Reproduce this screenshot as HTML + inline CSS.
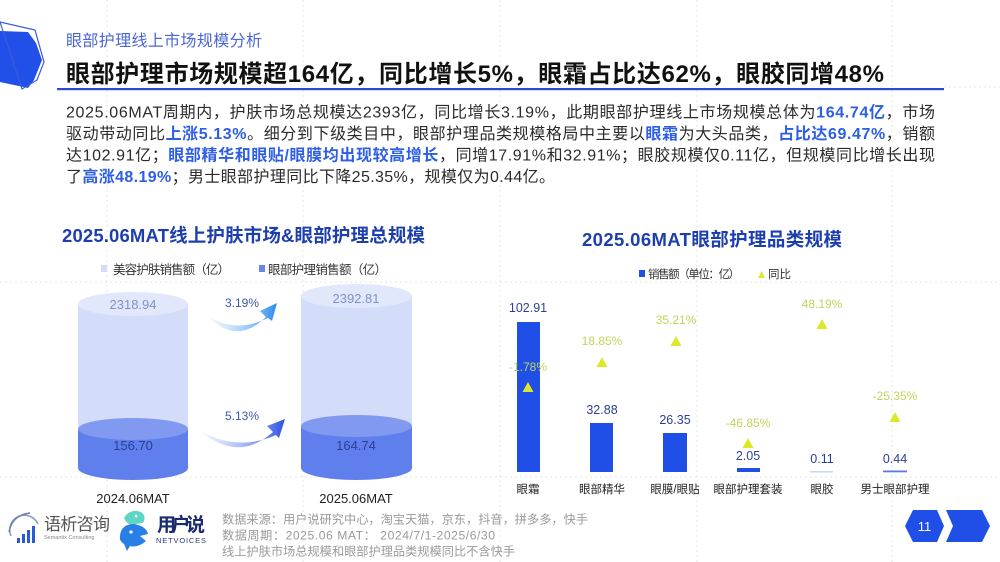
<!DOCTYPE html>
<html><head><meta charset="utf-8">
<style>
html,body{margin:0;padding:0;background:#fff;}
svg{display:block;}
text{font-family:"Liberation Sans","Noto Sans CJK SC",sans-serif;}
.body{font-size:16px;fill:#2b2b2b;}
.hl{fill:#2d5ee6;font-weight:bold;}
.grid{stroke:#e4e4e4;stroke-width:1;stroke-dasharray:2 3;fill:none;}
</style></head>
<body>
<svg width="1000" height="562" viewBox="0 0 1000 562" xmlns="http://www.w3.org/2000/svg">
<defs>
<linearGradient id="ag1" x1="0" y1="0" x2="1" y2="0">
<stop offset="0" stop-color="#d6e6fb" stop-opacity="0.3"/>
<stop offset="1" stop-color="#2b8af0"/>
</linearGradient>
<linearGradient id="ag2" x1="0" y1="0" x2="1" y2="0">
<stop offset="0" stop-color="#d3dcf9" stop-opacity="0.3"/>
<stop offset="1" stop-color="#2a4fe6"/>
</linearGradient>
</defs>

<!-- faint grid lines -->
<g class="grid">
<line x1="107" y1="0" x2="107" y2="562"/>
<line x1="303" y1="0" x2="303" y2="562"/>
<line x1="500" y1="0" x2="500" y2="562"/>
<line x1="697" y1="0" x2="697" y2="562"/>
<line x1="892" y1="0" x2="892" y2="562"/>
<line x1="944" y1="87" x2="1000" y2="87"/>
<line x1="0" y1="282" x2="1000" y2="282"/>
<line x1="0" y1="477" x2="1000" y2="477"/>
</g>

<!-- top-left decoration -->
<polygon points="0,31 28,32 36,43 42,60 34,80 28,88 0,82" fill="#2150e8"/>
<polygon points="0,22 35,30 44,62 37,80 22,89" fill="none" stroke="#3b5bd8" stroke-width="1.2"/>

<!-- header -->
<text x="66" y="46" font-size="16" fill="#4a66d6" textLength="196" lengthAdjust="spacing">眼部护理线上市场规模分析</text>
<text x="66" y="82" font-size="24" font-weight="bold" fill="#111" textLength="818" lengthAdjust="spacing">眼部护理市场规模超164亿，同比增长5%，眼霜占比达62%，眼胶同增48%</text>
<rect x="57" y="88" width="887" height="2.2" fill="#2a4ad0"/>

<!-- body text -->
<text class="body" x="66" y="117.5" textLength="869" lengthAdjust="spacing">2025.06MAT周期内，护肤市场总规模达2393亿，同比增长3.19%，此期眼部护理线上市场规模总体为<tspan class="hl">164.74亿</tspan>，市场</text>
<text class="body" x="66" y="139" textLength="869" lengthAdjust="spacing">驱动带动同比<tspan class="hl">上涨5.13%</tspan>。细分到下级类目中，眼部护理品类规模格局中主要以<tspan class="hl">眼霜</tspan>为大头品类，<tspan class="hl">占比达69.47%</tspan>，销额</text>
<text class="body" x="66" y="160.5" textLength="869" lengthAdjust="spacing">达102.91亿；<tspan class="hl">眼部精华和眼贴/眼膜均出现较高增长</tspan>，同增17.91%和32.91%；眼胶规模仅0.11亿，但规模同比增长出现</text>
<text class="body" x="66" y="182" textLength="489" lengthAdjust="spacing">了<tspan class="hl">高涨48.19%</tspan>；男士眼部护理同比下降25.35%，规模仅为0.44亿。</text>

<!-- LEFT CHART -->
<text x="62" y="242" font-size="18.5" font-weight="bold" fill="#1d3fae" textLength="363" lengthAdjust="spacing">2025.06MAT线上护肤市场&amp;眼部护理总规模</text>
<rect x="101" y="265" width="6" height="7" fill="#d3ddf9"/>
<text x="113" y="274" font-size="12.5" fill="#333" textLength="117" lengthAdjust="spacing">美容护肤销售额（亿）</text>
<rect x="259" y="265" width="6" height="7" fill="#6b86ec"/>
<text x="268" y="274" font-size="12.5" fill="#333" textLength="119" lengthAdjust="spacing">眼部护理销售额（亿）</text>

<!-- left cylinder -->
<rect x="78" y="304" width="110" height="125" fill="#d3ddf9"/>
<ellipse cx="133" cy="304" rx="55" ry="12" fill="#e1e8fc"/>
<rect x="78" y="429" width="110" height="39" fill="#5f7fed"/>
<ellipse cx="133" cy="468" rx="55" ry="12" fill="#5f7fed"/>
<ellipse cx="133" cy="429" rx="55" ry="11" fill="#8199f1"/>
<text x="133" y="309" font-size="13" fill="#8090c8" text-anchor="middle">2318.94</text>
<text x="133" y="450" font-size="13" fill="#2c3f95" text-anchor="middle">156.70</text>

<!-- right cylinder -->
<rect x="301" y="296" width="111" height="130" fill="#d3ddf9"/>
<ellipse cx="356.5" cy="296" rx="55.5" ry="12" fill="#e1e8fc"/>
<rect x="301" y="426" width="111" height="42" fill="#5f7fed"/>
<ellipse cx="356.5" cy="468" rx="55.5" ry="12" fill="#5f7fed"/>
<ellipse cx="356.5" cy="426" rx="55.5" ry="11" fill="#8199f1"/>
<text x="356" y="303" font-size="13" fill="#8090c8" text-anchor="middle">2392.81</text>
<text x="356" y="450" font-size="13" fill="#2c3f95" text-anchor="middle">164.74</text>

<text x="133" y="503" font-size="13" fill="#222" text-anchor="middle">2024.06MAT</text>
<text x="356" y="503" font-size="13" fill="#222" text-anchor="middle">2025.06MAT</text>

<!-- arrows -->
<path d="M208,316 Q236,346 266,317 L260,311 L277,303 L272,321 L268,318 Q236,334 208,316 Z" fill="url(#ag1)"/>
<text x="242" y="307" font-size="12" fill="#3a5aa8" text-anchor="middle">3.19%</text>
<path d="M200,431 Q238,463 273,432 L267,426 L285,419 L279,438 L276,435 Q238,452 200,431 Z" fill="url(#ag2)"/>
<text x="242" y="420" font-size="12" fill="#3a5aa8" text-anchor="middle">5.13%</text>

<!-- RIGHT CHART -->
<text x="582" y="246" font-size="18.5" font-weight="bold" fill="#1d3fae" textLength="260" lengthAdjust="spacing">2025.06MAT眼部护理品类规模</text>
<rect x="639" y="270" width="6" height="7" fill="#1f4fe6"/>
<text x="648" y="278" font-size="11.5" fill="#333" textLength="92" lengthAdjust="spacing">销售额（单位：亿）</text>
<polygon points="758,278 765,278 761.5,271" fill="#dde82a"/>
<text x="768" y="278" font-size="11.5" fill="#333">同比</text>

<!-- bars -->
<rect x="517" y="322" width="23" height="150" fill="#1f4fe6"/>
<rect x="590" y="423" width="23" height="49" fill="#1f4fe6"/>
<rect x="663" y="433" width="24" height="39" fill="#1f4fe6"/>
<rect x="737" y="468" width="23" height="4" fill="#1f4fe6"/>
<rect x="810" y="471" width="23" height="1.5" fill="#c9d4f6"/>
<rect x="883" y="470.5" width="24" height="1.8" fill="#5a78e8"/>

<g font-size="12.5" fill="#2c3f95" text-anchor="middle">
<text x="528" y="312">102.91</text>
<text x="602" y="414">32.88</text>
<text x="675" y="424">26.35</text>
<text x="748" y="460">2.05</text>
<text x="822" y="463">0.11</text>
<text x="895" y="463">0.44</text>
</g>

<!-- triangles -->
<g fill="#dde82a">
<polygon points="522.5,392 533.5,392 528,382"/>
<polygon points="596.5,367 607.5,367 602,357"/>
<polygon points="670.5,346 681.5,346 676,336"/>
<polygon points="742.5,448 753.5,448 748,438"/>
<polygon points="816.5,329 827.5,329 822,319"/>
<polygon points="889.5,422 900.5,422 895,412"/>
</g>
<g font-size="12" fill="#c5d35a" text-anchor="middle">
<text x="528" y="371">-1.78%</text>
<text x="602" y="345">18.85%</text>
<text x="676" y="324">35.21%</text>
<text x="748" y="427">-46.85%</text>
<text x="822" y="308">48.19%</text>
<text x="895" y="400">-25.35%</text>
</g>

<g font-size="11.5" fill="#222" text-anchor="middle">
<text x="528" y="493">眼霜</text>
<text x="602" y="493">眼部精华</text>
<text x="675" y="493">眼膜/眼贴</text>
<text x="748" y="493">眼部护理套装</text>
<text x="822" y="493">眼胶</text>
<text x="895" y="493">男士眼部护理</text>
</g>

<!-- footer logos -->
<path d="M11,536 A14,14 0 0 1 38,524" fill="none" stroke="#8aa0c0" stroke-width="1.6"/>
<path d="M9,532 Q12,515 30,513" fill="none" stroke="#6a7fa8" stroke-width="1.4"/>
<rect x="17" y="538" width="3" height="5" fill="#2a5ad8"/>
<rect x="22" y="534" width="3" height="9" fill="#2a5ad8"/>
<rect x="27" y="530" width="3" height="13" fill="#2a5ad8"/>
<rect x="32" y="526" width="3" height="17" fill="#2a5ad8"/>
<text x="44" y="530" font-size="17" fill="#555" textLength="66" lengthAdjust="spacing">语析咨询</text>
<text x="44" y="539" font-size="5.5" fill="#888">Semantix Consulting</text>

<path d="M124,518 Q130,508 141,512 Q147,516 143,523 L136,524 Q128,527 124,518 Z" fill="#5fd6c4"/>
<path d="M120,536 Q121,524 134,524 Q146,526 148,534 L140,536 L146,541 Q138,548 130,546 L127,551 L124,544 Q119,541 120,536 Z" fill="#2a7fe6"/>
<circle cx="131" cy="532" r="1.6" fill="#fff"/>
<circle cx="136" cy="516" r="1.3" fill="#fff"/>
<text x="157" y="531" font-size="19" font-weight="bold" fill="#1b2a6e" textLength="48" lengthAdjust="spacing">用户说</text>
<text x="156" y="543" font-size="7.5" fill="#2a3a7a" textLength="50" lengthAdjust="spacing">NETVOICES</text>

<g font-size="12.2" fill="#9a9a9a">
<text x="222" y="523.5" textLength="366" lengthAdjust="spacing">数据来源：用户说研究中心，淘宝天猫，京东，抖音，拼多多，快手</text>
<text x="222" y="539.5" textLength="273" lengthAdjust="spacing">数据周期：2025.06 MAT： 2024/7/1-2025/6/30</text>
<text x="222" y="555.5" textLength="293" lengthAdjust="spacing">线上护肤市场总规模和眼部护理品类规模同比不含快手</text>
</g>

<!-- page number -->
<polygon points="905,526 913,510 937,510 944,526 937,542 913,542" fill="#1f4fe6"/>
<text x="924.5" y="531" font-size="13" fill="#fff" text-anchor="middle">11</text>
<polygon points="946,510 982,510 990,526 982,542 946,542 953,526" fill="#1f4fe6"/>
</svg>
</body></html>
